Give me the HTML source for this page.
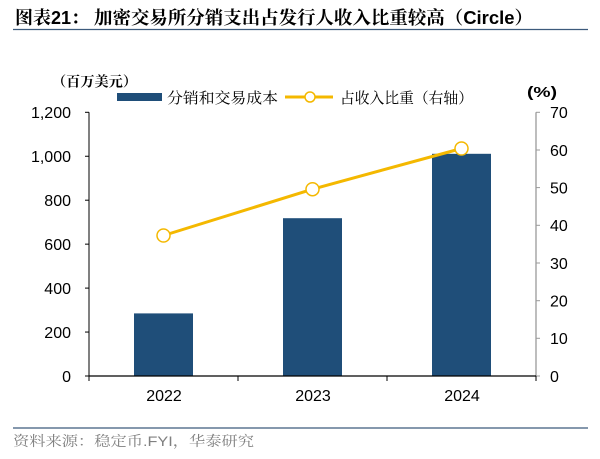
<!DOCTYPE html>
<html>
<head>
<meta charset="utf-8">
<style>
  html,body{margin:0;padding:0;background:#fff;}
  svg{display:block;}
  .cjk{font-family:"Liberation Serif","Noto Serif CJK SC",serif;}
  .num{font-family:"Liberation Sans","Noto Sans CJK SC",sans-serif;}
</style>
</head>
<body>
<svg width="600" height="459" viewBox="0 0 600 459" xmlns="http://www.w3.org/2000/svg">
  <!-- Title -->
  <text x="15" y="24" font-size="18" font-weight="bold" fill="#000"><tspan class="cjk" font-family="Noto Serif CJK SC, serif">图表</tspan><tspan font-family="Liberation Sans, sans-serif">21</tspan><tspan font-family="Noto Serif CJK SC, serif">：</tspan></text>
  <text x="94" y="24" font-size="18" font-weight="bold" fill="#000" textLength="439" lengthAdjust="spacingAndGlyphs"><tspan font-family="Noto Serif CJK SC, serif">加密交易所分销支出占发行人收入比重较高（</tspan><tspan font-family="Liberation Sans, sans-serif">Circle</tspan><tspan font-family="Noto Serif CJK SC, serif">）</tspan></text>
  <line x1="13" y1="29.5" x2="588" y2="29.5" stroke="#3c5a7c" stroke-width="1.3"/>

  <!-- Units -->
  <text x="52" y="86.5" font-size="14" font-weight="bold" font-family="Noto Serif CJK SC, serif" fill="#000" textLength="85" lengthAdjust="spacingAndGlyphs">（百万美元）</text>
  <text x="527" y="97" font-size="15" font-weight="bold" font-family="Liberation Sans, Noto Sans CJK SC, sans-serif" fill="#000" textLength="30" lengthAdjust="spacingAndGlyphs">(%)</text>

  <!-- Legend -->
  <rect x="117" y="93" width="45" height="8" fill="#1f4e79"/>
  <text x="167" y="103" font-size="15" font-family="Noto Serif CJK SC, serif" fill="#000" textLength="111" lengthAdjust="spacingAndGlyphs">分销和交易成本</text>
  <line x1="285" y1="97" x2="333" y2="97" stroke="#f4b800" stroke-width="3"/>
  <circle cx="310" cy="97" r="5" fill="#fff" stroke="#f4b800" stroke-width="1.5"/>
  <text x="340" y="103" font-size="15" font-family="Noto Serif CJK SC, serif" fill="#000" textLength="133" lengthAdjust="spacingAndGlyphs">占收入比重（右轴）</text>

  <!-- Bars -->
  <rect x="134" y="313.4" width="59" height="62.6" fill="#1f4e79"/>
  <rect x="283" y="218.2" width="59" height="157.8" fill="#1f4e79"/>
  <rect x="432" y="153.8" width="59" height="222.2" fill="#1f4e79"/>

  <!-- Left axis -->
  <line x1="89" y1="112.3" x2="89" y2="376" stroke="#000" stroke-width="1"/>
  <g stroke="#000" stroke-width="1">
    <line x1="85" y1="112.3" x2="89" y2="112.3"/>
    <line x1="85" y1="156.25" x2="89" y2="156.25"/>
    <line x1="85" y1="200.2" x2="89" y2="200.2"/>
    <line x1="85" y1="244.15" x2="89" y2="244.15"/>
    <line x1="85" y1="288.1" x2="89" y2="288.1"/>
    <line x1="85" y1="332.05" x2="89" y2="332.05"/>
    <line x1="85" y1="376" x2="89" y2="376"/>
  </g>
  <g font-size="16" font-family="Liberation Sans, sans-serif" fill="#000" text-anchor="end">
    <text x="71" y="118">1,200</text>
    <text x="71" y="162">1,000</text>
    <text x="71" y="206">800</text>
    <text x="71" y="250">600</text>
    <text x="71" y="294">400</text>
    <text x="71" y="338">200</text>
    <text x="71" y="382">0</text>
  </g>

  <!-- Right axis -->
  <line x1="536" y1="112.3" x2="536" y2="376" stroke="#9a9a9a" stroke-width="1.3"/>
  <g stroke="#9a9a9a" stroke-width="1">
    <line x1="536" y1="112.3" x2="540" y2="112.3"/>
    <line x1="536" y1="150" x2="540" y2="150"/>
    <line x1="536" y1="187.6" x2="540" y2="187.6"/>
    <line x1="536" y1="225.3" x2="540" y2="225.3"/>
    <line x1="536" y1="263" x2="540" y2="263"/>
    <line x1="536" y1="300.7" x2="540" y2="300.7"/>
    <line x1="536" y1="338.3" x2="540" y2="338.3"/>
    <line x1="536" y1="376" x2="540" y2="376"/>
  </g>
  <g font-size="16" font-family="Liberation Sans, sans-serif" fill="#000">
    <text x="550" y="118">70</text>
    <text x="550" y="156">60</text>
    <text x="550" y="193.5">50</text>
    <text x="550" y="231">40</text>
    <text x="550" y="269">30</text>
    <text x="550" y="306.5">20</text>
    <text x="550" y="344">10</text>
    <text x="550" y="382">0</text>
  </g>

  <!-- X axis -->
  <line x1="89" y1="376" x2="536" y2="376" stroke="#000" stroke-width="1.3"/>
  <g stroke="#000" stroke-width="1">
    <line x1="89" y1="376" x2="89" y2="381"/>
    <line x1="238" y1="376" x2="238" y2="381"/>
    <line x1="387" y1="376" x2="387" y2="381"/>
    <line x1="536" y1="376" x2="536" y2="381"/>
  </g>
  <g font-size="16" font-family="Liberation Sans, sans-serif" fill="#000" text-anchor="middle">
    <text x="164" y="401">2022</text>
    <text x="313" y="401">2023</text>
    <text x="462" y="401">2024</text>
  </g>

  <!-- Line series -->
  <polyline points="163.5,235.5 312.5,189.2 461.5,148.5" fill="none" stroke="#f4b800" stroke-width="3"/>
  <circle cx="163.5" cy="235.5" r="6.5" fill="#fff" stroke="#f4b800" stroke-width="1.5"/>
  <circle cx="312.5" cy="189.2" r="6.5" fill="#fff" stroke="#f4b800" stroke-width="1.5"/>
  <circle cx="461.5" cy="148.5" r="6.5" fill="#fff" stroke="#f4b800" stroke-width="1.5"/>

  <!-- Source -->
  <line x1="13" y1="428" x2="588" y2="428" stroke="#3c5a7c" stroke-width="1.3"/>
  <text x="13" y="446" font-size="14" font-family="Noto Serif CJK SC, serif" fill="#808080" textLength="241" lengthAdjust="spacingAndGlyphs">资料来源：稳定币<tspan font-family="Liberation Sans, sans-serif">.FYI</tspan>，华泰研究</text>
</svg>
</body>
</html>
